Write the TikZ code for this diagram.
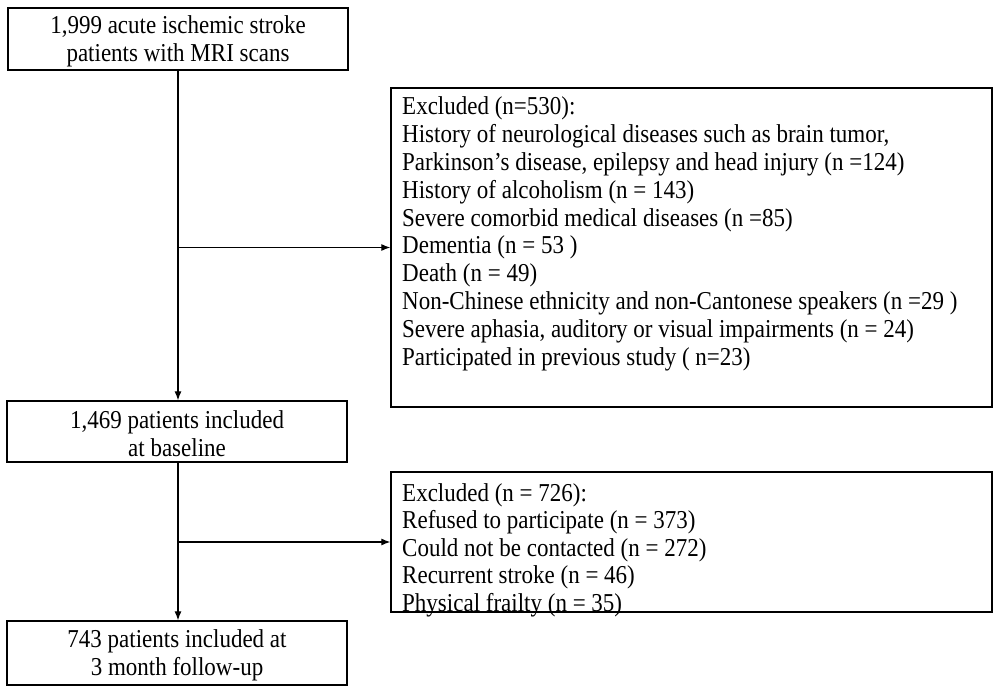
\documentclass[tikz,border=0pt]{standalone}
\usepackage{graphicx}
\usepackage{fontspec}
\setmainfont{Liberation Serif}
\usetikzlibrary{arrows.meta}
\newcommand{\tall}[1]{\scalebox{1}[1.12]{#1}}
\begin{document}
\begin{tikzpicture}[x=1pt,y=-1pt,
  box/.style={draw, line width=1.3pt, inner sep=0pt, fill=none},
  txt/.style={font=\fontsize{23}{27.8}\selectfont, inner sep=0pt},
  arr/.style={-{Latex[length=9pt,width=7pt]}, line width=1.2pt}]
\useasboundingbox (0,0) rectangle (1000,692);
% boxes
\node[box, minimum width=340pt, minimum height=62pt] (b1) at (178,39) {};
\node[box, minimum width=601pt, minimum height=319pt] (ex1) at (691.5,247.5) {};
\node[box, minimum width=340pt, minimum height=61pt] (b2) at (177,431.5) {};
\node[box, minimum width=601pt, minimum height=140pt] (ex2) at (691.5,542) {};
\node[box, minimum width=340pt, minimum height=64pt] (b3) at (177,653) {};
% main box texts
\node[txt, anchor=base] (t1a) at (178,34) {\tall{1,999 acute ischemic stroke}};
\node[txt, anchor=base] (t1b) at (178,62) {\tall{patients with MRI scans}};
\node[txt, anchor=base] (t2a) at (177,428) {\tall{1,469 patients included}};
\node[txt, anchor=base] (t2b) at (177,456) {\tall{at baseline}};
\node[txt, anchor=base] (t3a) at (177,647) {\tall{743 patients included at}};
\node[txt, anchor=base] (t3b) at (177,675) {\tall{3 month follow-up}};
% exclusion texts
\foreach \s [count=\i from 0] in {{Excluded (n=530):},
  {History of neurological diseases such as brain tumor,},
  {Parkinson’s disease, epilepsy and head injury (n =124)},
  {History of alcoholism (n = 143)},
  {Severe comorbid medical diseases (n =85)},
  {Dementia (n = 53 )},
  {Death (n = 49)},
  {Non-Chinese ethnicity and non-Cantonese speakers (n =29 )},
  {Severe aphasia, auditory or visual impairments (n = 24)},
  {Participated in previous study ( n=23)}}
  \node[txt, anchor=base west] (e1\i) at (402,115+27.8*\i) {\tall{\s}};
\foreach \s [count=\i from 0] in {{Excluded (n = 726):},
  {Refused to participate (n = 373)},
  {Could not be contacted (n = 272)},
  {Recurrent stroke (n = 46)},
  {Physical frailty (n = 35)}}
  \node[txt, anchor=base west] (e2\i) at (402,501+27.6*\i) {\tall{\s}};
% connectors
\coordinate (j1) at (b1.south |- ex1.west);
\coordinate (j2) at (b1.south |- ex2.west);
\draw[arr] (b1.south) -- (b1.south |- b2.north);
\draw[arr] (j1) -- (ex1.west);
\draw[arr] (b1.south |- b2.south) -- (b1.south |- b3.north);
\draw[arr] (j2) -- (ex2.west);
\end{tikzpicture}
\end{document}
